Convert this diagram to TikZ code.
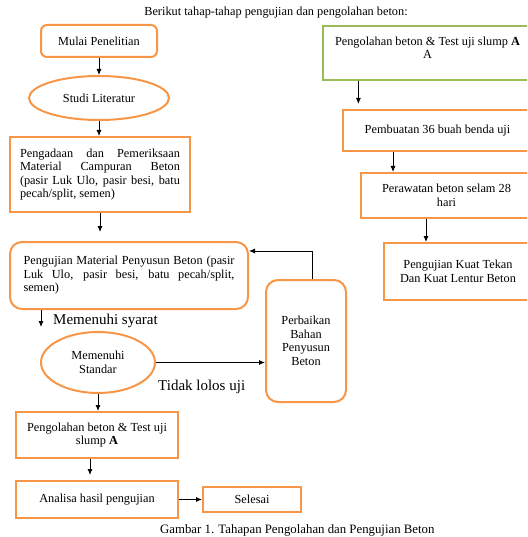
\documentclass[tikz,border=0pt]{standalone}
\usepackage{fontspec}
\setmainfont{Liberation Serif}
\usepackage{tikz}
\usetikzlibrary{arrows.meta,positioning,shapes.geometric}
\definecolor{bakorange}{HTML}{F79646}
\definecolor{bakgreen}{HTML}{9BBB59}

\begin{document}
\begin{tikzpicture}[
  x=1pt,y=-1pt,
  font=\fontsize{12.3}{13.5}\selectfont,
  stepbox/.style={draw=bakorange,line width=2pt,inner sep=0pt,align=center},
  roundbox/.style={stepbox,rounded corners=6pt},
  oval/.style={draw=bakorange,line width=2pt,ellipse,inner sep=0pt,align=center},
  greenbox/.style={draw=bakgreen,line width=1.2pt,inner sep=0pt},
  arr/.style={-{Latex[length=6pt,width=5pt]},line width=0.9pt,black},
  note/.style={font=\fontsize{15}{17}\selectfont,inner sep=0pt}
]
\clip (0,0) rectangle (527,537);
\node[anchor=base] (intro) at (276,16) {Berikut tahap-tahap pengujian dan pengolahan beton:};
\node[roundbox,minimum width=116pt,minimum height=32pt] (start) at (99,41) {Mulai Penelitian};
\node[oval,minimum width=140pt,minimum height=44pt] (lit) at (99,98) {Studi Literatur};
\node[stepbox,minimum width=180pt,minimum height=75pt,text width=160pt,align=justify] (procure) at (100,174.5) {Pengadaan dan Pemeriksaan\linebreak Material Campuran Beton\linebreak (pasir Luk Ulo, pasir besi, batu\linebreak pecah/split, semen)};
\node[stepbox,rounded corners=12pt,minimum width=238pt,minimum height=67pt,text width=211pt,align=justify] (test) at (129,275.5) {Pengujian Material Penyusun Beton (pasir\linebreak Luk Ulo, pasir besi, batu pecah/split,\linebreak semen)};
\node[stepbox,rounded corners=12pt,minimum width=80pt,minimum height=122pt] (fix) at (306,341) {Perbaikan\\Bahan\\Penyusun\\Beton};
\node[oval,minimum width=114pt,minimum height=61pt] (std) at (98,362.5) {Memenuhi\\Standar};
\node[stepbox,minimum width=162pt,minimum height=46pt] (mix) at (97,435) {Pengolahan beton \& Test uji\\slump \textbf{A}};
\node[stepbox,minimum width=162pt,minimum height=37pt] (anal) at (97,499.5) {Analisa hasil pengujian};
\node[stepbox,minimum width=98pt,minimum height=25pt] (done) at (252,499.5) {Selesai};
\node[greenbox,minimum width=209pt,minimum height=54pt] (mixA) at (427.5,53) {};
\node[below=11pt of mixA.north,align=center,inner sep=0pt] (mixAtext) {Pengolahan beton \& Test uji slump \textbf{A}\\A};
\node[stepbox,minimum width=189pt,minimum height=41pt] (make) at (437.5,130.5) {Pembuatan 36 buah benda uji};
\node[stepbox,minimum width=171pt,minimum height=45pt] (cure) at (446.5,195.5) {Perawatan beton selam 28\\hari};
\node[stepbox,minimum width=148pt,minimum height=57pt] (strength) at (458,271.5) {Pengujian Kuat Tekan\\Dan Kuat Lentur Beton};
\coordinate (okend) at (41,327);
\node[note,anchor=west] (oklabel) at (53,321) {Memenuhi syarat};
\node[note,anchor=west] (faillabel) at (158,387) {Tidak lolos uji};
\node[anchor=base west,inner sep=0pt,font=\fontsize{12.8}{14}\selectfont] (caption) at (160,533) {Gambar 1. Tahapan Pengolahan dan Pengujian Beton};
\draw[arr] (start) -- (lit);
\draw[arr] (lit.south) -- (lit.south |- procure.north);
\draw[arr,shorten >=9pt] (procure.south) -- (procure.south |- test.north);
\draw[arr] (test.south -| okend) -- (okend);
\draw[arr] (std.south) -- (std.south |- mix.north);
\draw[arr,shorten >=5pt] ([xshift=-7pt]mix.south) -- ([xshift=-7pt]mix.south |- anal.north);
\draw[arr] (anal) -- (done);
\draw[arr] (std.east) -- (std.east -| fix.west);
\draw[arr] ([xshift=6pt]fix.north) |- ([yshift=24.5pt]test.east);
\draw[arr,shorten >=5pt] ([xshift=36pt]mixA.south west) -- ([xshift=36pt]mixA.south west |- make.north);
\draw[arr] ([xshift=51pt]make.south west) -- ([xshift=51pt]make.south west |- cure.north);
\draw[arr] ([xshift=66pt]cure.south west) -- ([xshift=66pt]cure.south west |- strength.north);
\end{tikzpicture}
\end{document}
